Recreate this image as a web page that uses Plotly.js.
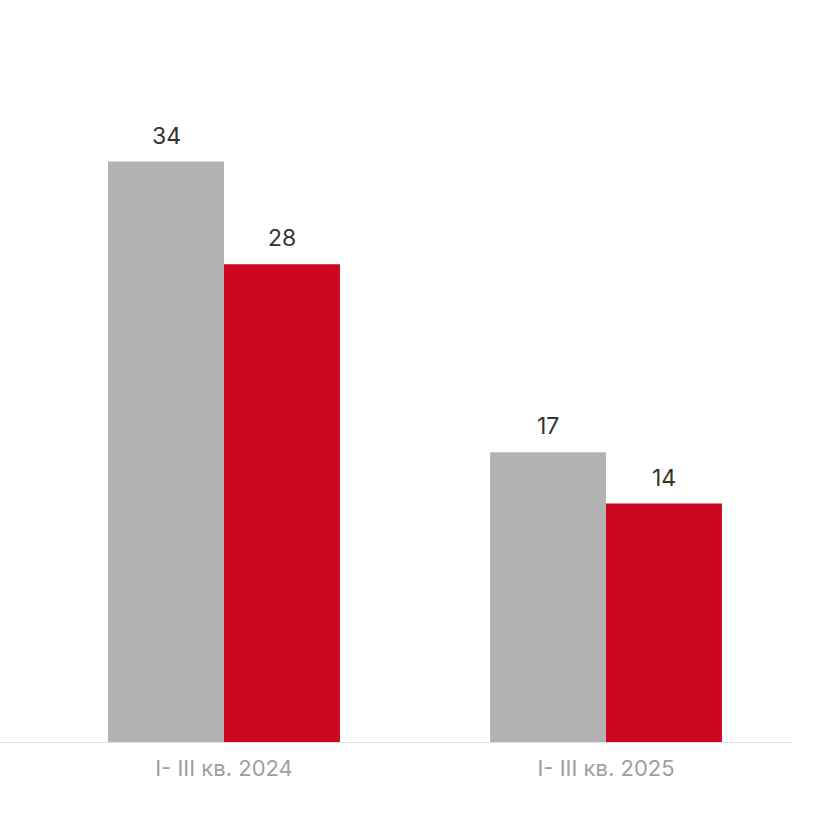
<!DOCTYPE html>
<html>
<head>
<meta charset="utf-8">
<script src="https://cdn.plot.ly/plotly-3.0.1.min.js"></script>
<style>html,body{margin:0;padding:0;background:#fff;}#chart{width:824px;height:824px;}</style>
</head>
<body>
<div id="chart"></div>
<script>
const categories = ["I- III кв. 2024", "I- III кв. 2025"];
const seriesGrey = [34, 17];
const seriesRed = [28, 14];

const greyColor = "#b3b3b3";
const redColor = "#cc081e";
const fontFam = "Inter, Roboto, sans-serif";

const traces = [
  {type: "bar", x: categories, y: seriesGrey, marker: {color: greyColor}, hoverinfo: "none", name: "A"},
  {type: "bar", x: categories, y: seriesRed, marker: {color: redColor}, hoverinfo: "none", name: "B"}
];

const annotations = [];
categories.forEach((c, i) => {
  annotations.push({x: c, y: seriesGrey[i], text: String(seriesGrey[i]), xshift: -58, yshift: 10, yanchor: "bottom", showarrow: false, font: {size: 23, color: "#333333", family: fontFam}});
  annotations.push({x: c, y: seriesRed[i], text: String(seriesRed[i]), xshift: 58, yshift: 10, yanchor: "bottom", showarrow: false, font: {size: 23, color: "#333333", family: fontFam}});
});

const layout = {
  width: 824, height: 824,
  margin: {l: 33, r: 27, t: 59, b: 81},
  paper_bgcolor: "#ffffff", plot_bgcolor: "#ffffff",
  showlegend: false,
  barmode: "group", bargap: 0.393, bargroupgap: 0,
  font: {family: fontFam},
  xaxis: {type: "category", range: [-0.5, 1.5], showline: false, showgrid: false, zeroline: false, ticks: "",
          tickfont: {size: 22, color: "#a0a0a0", family: fontFam}, ticklabelstandoff: 10, fixedrange: true},
  yaxis: {range: [0, 40], visible: false, showgrid: false, zeroline: false, fixedrange: true},
  annotations: annotations,
  shapes: [{type: "line", xref: "paper", yref: "y", x0: -33/764, x1: (792-33)/764, y0: 0, y1: 0, line: {color: "#e0e0e0", width: 2}, layer: "above"}]
};

Plotly.newPlot("chart", traces, layout, {displayModeBar: false, staticPlot: true});
</script>
</body>
</html>
